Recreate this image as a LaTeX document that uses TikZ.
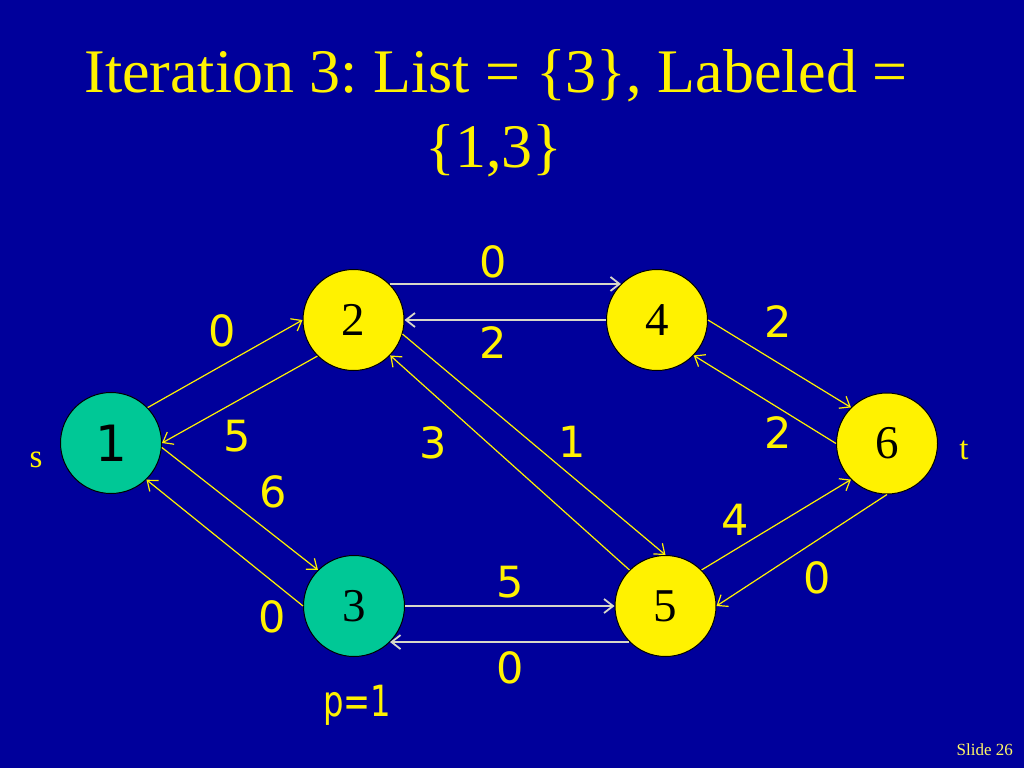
\documentclass[tikz,border=0pt]{standalone}
\usepackage{fontspec}
\setmainfont{Liberation Serif}
\newfontfamily\comicfont{DejaVu Sans}
\usetikzlibrary{arrows.meta}
\frenchspacing
\definecolor{slideblue}{RGB}{0,0,155}
\definecolor{labeledgreen}{RGB}{0,200,150}
\definecolor{paleline}{RGB}{215,215,200}
\tikzstyle{labeled} = [circle,
minimum size=101pt,
inner sep=0pt,
draw=black,
line width=1pt,
fill=labeledgreen,
font=\fontsize{47}{50}\selectfont]
\tikzstyle{unlabeled} = [circle,
minimum size=101pt,
inner sep=0pt,
draw=black,
line width=1pt,
fill=yellow,
font=\fontsize{47}{50}\selectfont]
\tikzstyle{flowlabel} = [text=yellow, inner sep=0pt, font=\comicfont\fontsize{43}{50}\selectfont]
\tikzstyle{flow} = [yellow, line width=1.2pt, -{Straight Barb[length=9pt,width=14pt]}]
\tikzstyle{hflow} = [paleline, line width=1.8pt, -{Straight Barb[length=9pt,width=14pt]}]

\begin{document}
\begin{tikzpicture}[x=1pt,y=-1pt]

\fill [slideblue] (0,0) rectangle (1024,768);
\useasboundingbox (0,0) rectangle (1024,768);

% Title
\node (title) [anchor=base, text=yellow, inner sep=0pt, font=\fontsize{62}{75}\selectfont] at (496,92) {Iteration 3: List = \{3\}, Labeled =};
\node (titlecont) [anchor=base, text=yellow, inner sep=0pt, font=\fontsize{62}{75}\selectfont] at (494,167) {\{1,3\}};

% Nodes
\node (n1) [labeled, font=\comicfont\fontsize{50}{54}\selectfont] at (111,443) {1};
\node (n2) [unlabeled] at (353.5,320) {2};
\node (n4) [unlabeled] at (657,320) {4};
\node (n6) [unlabeled] at (887,443.5) {6};
\node (n3) [labeled] at (354,606) {3};
\node (n5) [unlabeled] at (665.5,606) {5};
\node (source) [text=yellow, inner sep=0pt, font=\fontsize{33}{36}\selectfont] at (36,460) {s};
\node (sink) [text=yellow, inner sep=0pt, font=\fontsize{33}{36}\selectfont] at (964,450) {t};

% Arrows
\draw [flow] (n1.44) -- (n2.west);
\draw [flow] (n2.-135) -- (n1.east);
\draw [flow] (n1.-5) -- (n3.135);
\draw [flow] (n3.west) -- (n1.-46);
\draw [hflow] (n2.45) -- (n4.135);
\draw [hflow] (n4.west) -- (n2.east);
\draw [flow] (n2.-16) -- (n5.north);
\draw [flow] (n5.135) -- (n2.-44);
\draw [flow] (n4.east) -- (n6.135);
\draw [flow] (n6.west) -- (n4.-44);
\draw [flow] (n5.45) -- (n6.-135);
\draw [flow] (n6.south) -- (n5.east);
\draw [hflow] (n3.east) -- (n5.west);
\draw [hflow] (n5.-135) -- (n3.-45);

% Capacities
\node (c12) [flowlabel] at (222,331) {0};
\node (c21) [flowlabel] at (237,436) {5};
\node (c13) [flowlabel] at (273,492) {6};
\node (c31) [flowlabel] at (272,617) {0};
\node (c24) [flowlabel] at (493,262) {0};
\node (c42) [flowlabel] at (493,343) {2};
\node (c52) [flowlabel] at (433,443) {3};
\node (c25) [flowlabel] at (572,442) {1};
\node (c46) [flowlabel] at (778,322) {2};
\node (c64) [flowlabel] at (778,433) {2};
\node (c56) [flowlabel] at (735,520) {4};
\node (c65) [flowlabel] at (817,578) {0};
\node (c35) [flowlabel] at (510,582) {5};
\node (c53) [flowlabel] at (510,668) {0};
\node (pred) [flowlabel, anchor=base] at (357,716) {\scalebox{0.75}[1]{p=1}};

\node (slideno) [anchor=base east, inner sep=0pt, text=yellow!60!white, font=\fontsize{17}{20}\selectfont] at (1013,755) {Slide 26};

\end{tikzpicture}
\end{document}
